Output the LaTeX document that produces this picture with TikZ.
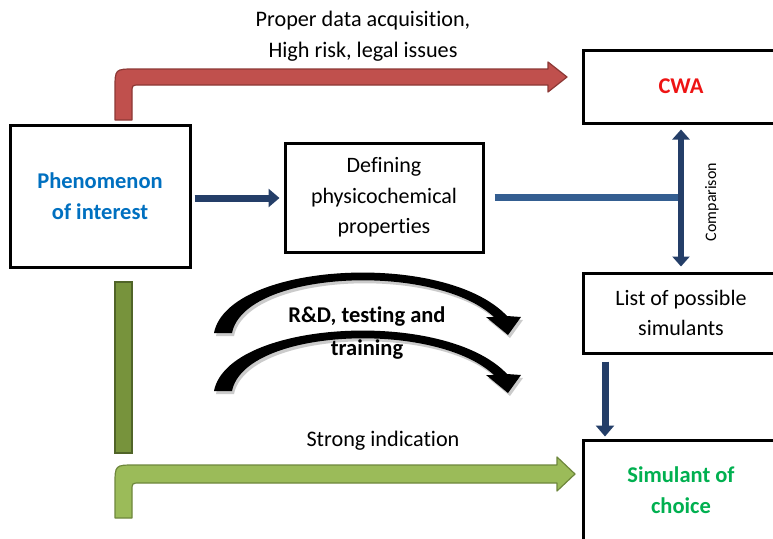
\documentclass[tikz,border=0pt]{standalone}
\usepackage{fontspec}
\setmainfont{Carlito}[Ligatures=NoCommon]
\usetikzlibrary{arrows.meta,calc}
\definecolor{redfill}{RGB}{192,80,77}
\definecolor{redline}{RGB}{140,56,53}
\definecolor{greenfill}{RGB}{155,187,89}
\definecolor{greenline}{RGB}{110,135,60}
\definecolor{olivefill}{RGB}{119,147,60}
\definecolor{oliveline}{RGB}{80,100,40}
\definecolor{darkblue}{RGB}{36,62,104}
\definecolor{midblue}{RGB}{52,94,145}
\definecolor{phenblue}{RGB}{0,112,192}
\definecolor{cwared}{RGB}{238,20,20}
\definecolor{simgreen}{RGB}{0,176,80}
\newcommand{\bt}{\bfseries\fontsize{22.5}{31}\selectfont}
\tikzset{
  box/.style={draw=black,line width=3pt,rectangle,inner sep=0pt,align=center,font=\fontsize{22}{30.5}\selectfont},
  boldtxt/.style={font=\bt,align=center},
  plaintxt/.style={font=\fontsize{22.2}{30}\selectfont,align=center,inner sep=0pt},
  bluearrow/.style={draw=darkblue,line width=7pt,-{Triangle[width=18pt,length=11pt]}},
  bluedbl/.style={draw=darkblue,line width=6.5pt,{Triangle[width=17pt,length=10pt]}-{Triangle[width=17pt,length=10pt]}},
  bluebar/.style={draw=midblue,line width=7pt},
  bentred/.style={fill=redfill,draw=redline,line width=1.2pt,line join=round},
  bentgreen/.style={fill=greenfill,draw=greenline,line width=1.2pt,line join=round},
}
\begin{document}
\begin{tikzpicture}[x=1pt,y=-1pt]
\useasboundingbox (0,0) rectangle (773,538);
\clip (0,0) rectangle (773,538);
\fill[white] (0,0) rectangle (773,538);

% boxes
\node[box,minimum width=180pt,minimum height=142pt,text=phenblue] (phen) at (100,196)
  {\bt Phenomenon\\\bt of interest};
\node[box,minimum width=198pt,minimum height=109pt] (def) at (384,197.5)
  {Defining\\physicochemical\\properties};
\node[box,minimum width=196pt,minimum height=73pt,text=cwared] (cwa) at (681,86.5)
  {\bt CWA};
\node[box,minimum width=196pt,minimum height=80pt] (list) at (681,313)
  {List of possible\\simulants};
\node[box,minimum width=196pt,minimum height=100pt,text=simgreen] (sim) at (681,490)
  {\bt Simulant of\\\bt choice};

% red bent arrow
\path[bentred] (115,120) -- (115,89) .. controls (115,69) .. (135,69) -- (548,69)
  -- (548,62) -- (567,77) -- (548,92) -- (548,85) -- (140,85)
  .. controls (132,85) .. (132,93) -- (132,120) -- cycle;
\node[plaintxt] (t1) at (363,21) {Proper data acquisition,};
\node[plaintxt] (t2) at (363,52) {High risk, legal issues};

% green stem and bent arrow
\path[fill=olivefill,draw=oliveline,line width=1.2pt] (115,282) rectangle (132,453);
\path[bentgreen] (115,518) -- (115,485) .. controls (115,465) .. (135,465) -- (557,465)
  -- (557,457) -- (575,474) -- (557,491) -- (557,483) -- (140,483)
  .. controls (132,483) .. (132,491) -- (132,518) -- cycle;
\node[plaintxt] (t3) at (383,441) {Strong indication};

% blue connectors
\draw[bluearrow,shorten <=3pt,shorten >=4pt] (phen.east |- 0,198) -- (def.west |- 0,198);
\coordinate (junc) at (cwa.south |- 0,197);
\draw[bluebar,shorten <=10pt] (def.east |- junc) -- ([xshift=3pt]junc);
\draw[bluedbl,shorten <=5pt,shorten >=5pt] (cwa.south) -- (list.north);
\node[font=\fontsize{16}{18}\selectfont,rotate=90,inner sep=0pt] (cmp) at (712,202) {Comparison};
\draw[bluearrow,shorten <=7pt,shorten >=2pt] (list.south -| 605,0) -- (sim.north -| 605,0);

% curved black arrows
\foreach \dy in {0,58} {
  \begin{scope}[yshift=-\dy pt]
    \fill[black!45,opacity=0.45,shift={(2,3)}]
      (214,333) .. controls (228,262) and (445,250) .. (507,316)
      -- (521,317) -- (508,335) -- (486,317) -- (494,317)
      .. controls (435,262) and (245,270) .. (232,333) -- cycle;
    \fill[black]
      (214,333) .. controls (228,262) and (445,250) .. (507,316)
      -- (521,317) -- (508,335) -- (486,317) -- (494,317)
      .. controls (435,262) and (245,270) .. (232,333) -- cycle;
  \end{scope}
}
\node[boldtxt,inner sep=0pt] (rd1) at (367,317) {R\&D, testing and};
\node[boldtxt,inner sep=0pt] (rd2) at (367,350) {training};
\end{tikzpicture}
\end{document}
